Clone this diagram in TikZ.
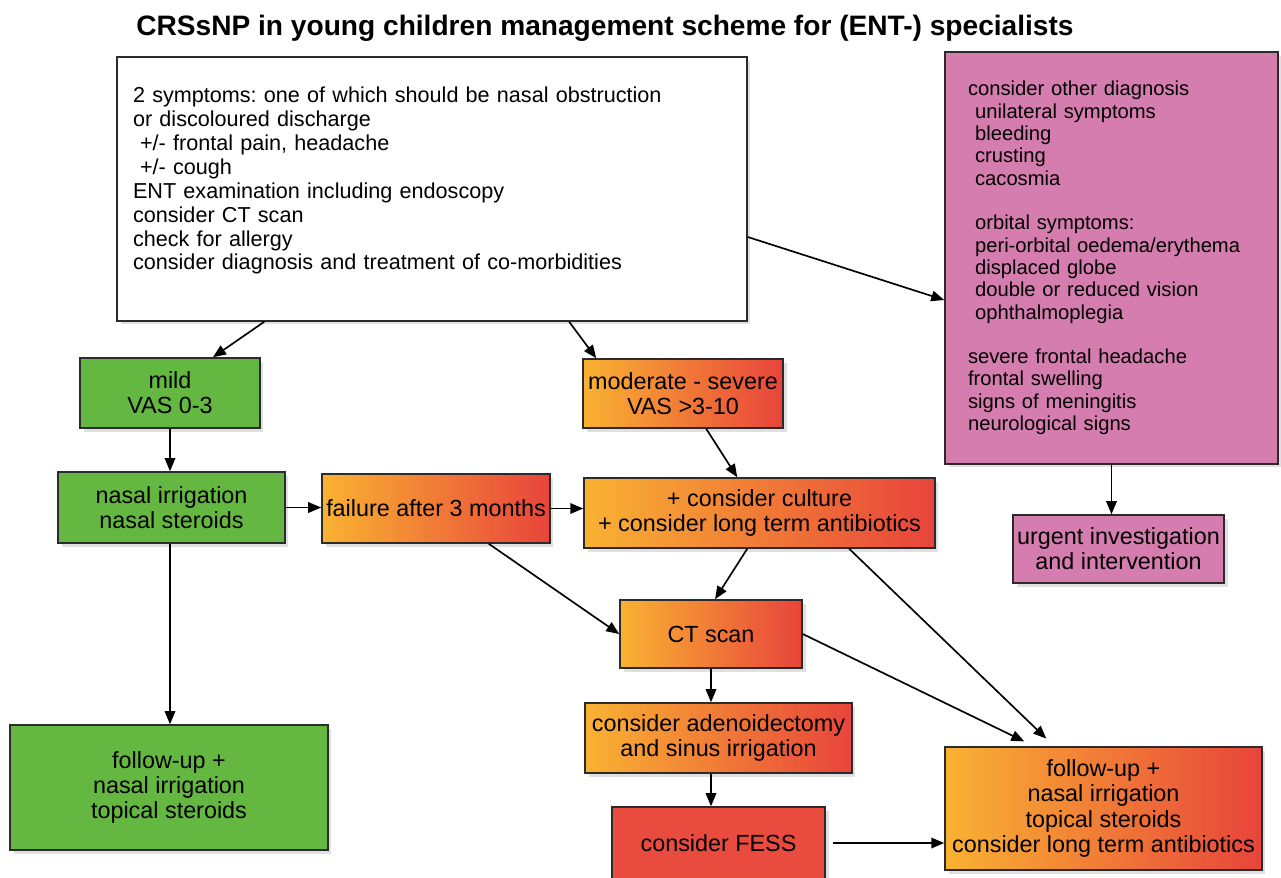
\documentclass[tikz,border=0pt]{standalone}
\usepackage{fontspec}
\setmainfont{Liberation Sans}
\usepackage{tikz}
\usetikzlibrary{arrows.meta,positioning,calc,shadows}
\definecolor{leaf}{HTML}{64B740}
\definecolor{sunny}{HTML}{F9B232}
\definecolor{flame}{HTML}{E8443B}
\definecolor{fessred}{HTML}{E94B3F}
\definecolor{mauve}{HTML}{D67DAF}
\definecolor{edge}{HTML}{2B2B2B}
\frenchspacing
\tikzset{box/.style={draw=edge,line width=0.9pt,align=center,inner sep=1pt,font=\fontsize{13.3}{14.3}\selectfont,drop shadow={fill=black!40,opacity=.3,shadow xshift=2pt,shadow yshift=-2pt}},mildbox/.style={box,fill=leaf},sevbox/.style={box,left color=sunny,right color=flame},fessbox/.style={box,fill=fessred},notebox/.style={box,fill=white,align=left,inner xsep=0.32cm,font=\fontsize{12.3}{13.6}\selectfont},alarmbox/.style={box,fill=mauve},arr/.style={-{Triangle[length=2.6mm,width=2.1mm]},line width=0.95pt,draw=black}}

\begin{document}
\begin{tikzpicture}[x=0.02cm,y=-0.02cm]
\path[use as bounding box] (0,0) rectangle (1281,877);
\node[font=\fontsize{16}{19}\selectfont\bfseries] (title) at (605,28) {CRSsNP in young children management scheme for (ENT-) specialists};
% first visit
\node[notebox,minimum width=12.6cm,minimum height=5.28cm,text width=11.96cm] (sym) at (432,189) {2 symptoms: one of which should be nasal obstruction\\or discoloured discharge\\\hspace*{4pt}+/- frontal pain, headache\\\hspace*{4pt}+/- cough\\ENT examination including endoscopy\\consider CT scan\\check for allergy\\consider diagnosis and treatment of co-morbidities\rule[-12pt]{0pt}{0pt}};
\node[alarmbox,align=left,inner xsep=0.46cm,font=\fontsize{11.5}{12.7}\selectfont,minimum width=6.66cm,minimum height=8.24cm,text width=5.74cm] (other) at (1111.5,258) {consider other diagnosis\\\hspace*{4pt}unilateral symptoms\\\hspace*{4pt}bleeding\\\hspace*{4pt}crusting\\\hspace*{4pt}cacosmia\\[12.7pt]\hspace*{4pt}orbital symptoms:\\\hspace*{4pt}peri-orbital oedema/erythema\\\hspace*{4pt}displaced globe\\\hspace*{4pt}double or reduced vision\\\hspace*{4pt}ophthalmoplegia\\[12.7pt]severe frontal headache\\frontal swelling\\signs of meningitis\\neurological signs};
% mild branch
\node[mildbox,minimum width=3.6cm,minimum height=1.4cm] (mild) at (170,393) {mild\\VAS 0-3};
\node[mildbox,minimum width=4.54cm,minimum height=1.42cm] (irrig) at (171.5,507.5) {nasal irrigation\\nasal steroids};
\node[mildbox,minimum width=6.36cm,minimum height=2.5cm] (fgreen) at (169,787.5) {follow-up +\\nasal irrigation\\topical steroids};
\node[sevbox,minimum width=4.56cm,minimum height=1.38cm] (fail) at (436,508.5) {failure after 3 months};
% moderate - severe branch
\node[sevbox,minimum width=4cm,minimum height=1.38cm] (mod) at (683,393.5) {moderate - severe\\VAS >3-10};
\node[sevbox,minimum width=7.02cm,minimum height=1.4cm] (cult) at (759.5,513) {+ consider culture\\+ consider long term antibiotics};
\node[sevbox,minimum width=3.64cm,minimum height=1.36cm] (ct) at (711,634) {CT scan};
\node[sevbox,minimum width=5.34cm,minimum height=1.4cm] (aden) at (718.5,738) {consider adenoidectomy\\and sinus irrigation};
\node[fessbox,minimum width=4.26cm,minimum height=1.44cm] (fess) at (718.5,843) {consider FESS};
\node[sevbox,minimum width=6.34cm,minimum height=2.46cm] (forange) at (1103.5,808.5) {follow-up +\\nasal irrigation\\topical steroids\\consider long term antibiotics};
\node[alarmbox,minimum width=4.22cm,minimum height=1.36cm] (urgent) at (1118.5,549) {urgent investigation\\and intervention};
% connectors
\draw[arr] ([xshift=2.96cm]sym.south west)--([xshift=0.86cm]mild.north);
\draw[arr] ([xshift=9.06cm]sym.south west)--([xshift=0.28cm]mod.north west);
\draw[arr] ([yshift=-0.96cm]sym.east)--([yshift=-0.84cm]other.west);
\draw[arr] (mild.south)--(mild.south|-irrig.north);
\draw[arr] (irrig.east)--(irrig.east-|fail.west);
\draw[arr] (fail.east)--(fail.east-|cult.west);
\draw[arr] ([xshift=2.48cm]mod.south west)--([xshift=3.08cm]cult.north west);
\draw[arr] (irrig.south-|mild.south)--(mild.south|-fgreen.north);
\draw[arr] ([xshift=-1.24cm]fail.south east)--(ct.west);
\draw[arr] ([xshift=3.28cm]cult.south west)--([xshift=0.08cm]ct.north);
\draw[arr,shorten >=0.22cm] ([xshift=5.32cm]cult.south west)--([xshift=2.2cm]forange.north west);
\draw[arr,shorten >=0.22cm] (ct.east)--([xshift=1.8cm]forange.north west);
\draw[arr] (ct.south)--(ct.south|-aden.north);
\draw[arr] (ct.south|-aden.south)--(ct.south|-fess.north);
\draw[arr] ([xshift=4pt]fess.east)--(fess.east-|forange.west);
\draw[arr] (other.south)--(other.south|-urgent.north);
\end{tikzpicture}
\end{document}
